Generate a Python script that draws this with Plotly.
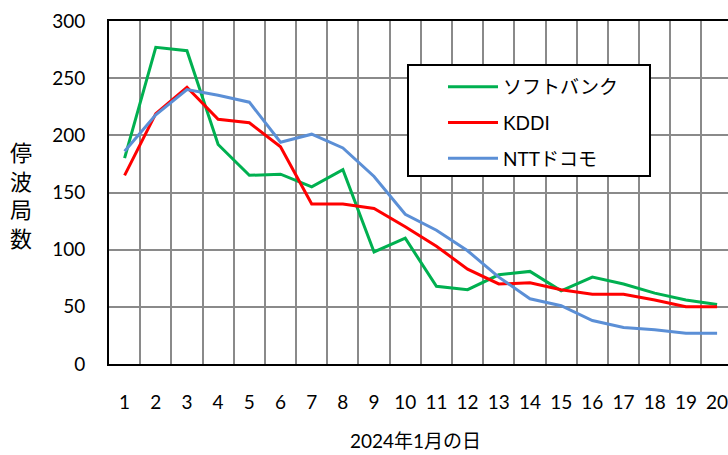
import plotly.graph_objects as go

days = list(range(1, 21))
day_labels = [str(d) for d in days]
softbank = [180, 277, 274, 192, 165, 166, 155, 170, 98, 110, 68, 65, 78, 81, 64, 76, 70, 62, 56, 52]
kddi = [165, 219, 242, 214, 211, 190, 140, 140, 136, 120, 103, 83, 70, 71, 65, 61, 61, 56, 50, 50]
ntt = [186, 218, 240, 235, 229, 194, 201, 189, 164, 131, 117, 99, 76, 57, 51, 38, 32, 30, 27, 27]
series_names = ["ソフトバンク", "KDDI", "NTTドコモ"]
series_colors = ["#00B050", "#FF0000", "#5B8FD6"]
y_ticks = [0, 50, 100, 150, 200, 250, 300]

FONT = "Lato, 'Noto Sans CJK JP', sans-serif"
W, H = 728, 455
# plot area in screen pixels: left 109, top 21, bottom 364, right clipped at 728
L, R, T, B = 109, 0, 21, 455 - 364
pw, ph = W - L - R, H - T - B

def px_x(x):
    return (x - L) / pw

def px_y(y):
    return (H - B - y) / ph

fig = go.Figure()
for i, (name, vals, col) in enumerate(zip(series_names, [softbank, kddi, ntt], series_colors)):
    fig.add_trace(go.Scatter(x=days, y=vals, mode="lines", name=name,
                             line=dict(color=col, width=3), legendgroup=f"g{i}"))

fig.update_layout(
    width=W, height=H,
    margin=dict(l=L, r=R, t=T, b=B, pad=0, autoexpand=False),
    paper_bgcolor="white", plot_bgcolor="white",
    font=dict(family=FONT, size=19, color="black"),
    showlegend=True,
    legend=dict(x=px_x(443), y=px_y(68), xanchor="left", yanchor="top",
                bgcolor="rgba(0,0,0,0)", borderwidth=0, tracegroupgap=8,
                itemwidth=50, font=dict(family=FONT, size=19, color="black")),
    xaxis=dict(range=[0.5, 20.35], tickvals=days, ticktext=day_labels,
               showgrid=False, zeroline=False, automargin=False, ticklabeloverflow="allow",
               showline=True, linecolor="black", linewidth=2, mirror=True,
               ticks="", ticklabelstandoff=20,
               minor=dict(tick0=0.5, dtick=1, showgrid=True, gridcolor="#8A8A8A", gridwidth=1.5, ticks="")),
    yaxis=dict(range=[0, 300], tickvals=y_ticks, showgrid=True, gridcolor="#8A8A8A", gridwidth=1.5,
               zeroline=False, showline=True, linecolor="black", linewidth=2, automargin=False,
               ticklabeloverflow="allow", ticks="", ticklabelstandoff=18),
    shapes=[dict(type="rect", xref="paper", yref="paper",
                 x0=px_x(408), x1=px_x(650), y0=px_y(176), y1=px_y(65),
                 line=dict(color="black", width=2), fillcolor="white", layer="above")],
    annotations=[
        dict(text="2024年1月の日", xref="paper", yref="paper", x=px_x(415), y=px_y(440),
             xanchor="center", yanchor="middle", showarrow=False, font=dict(family=FONT, size=19)),
        dict(text="停<br>波<br>局<br>数", xref="paper", yref="paper", x=px_x(21), y=px_y(195),
             xanchor="center", yanchor="middle", showarrow=False, font=dict(family=FONT, size=22)),
    ],
)

fig.write_html("out.html", config={"displayModeBar": False},
               post_script="document.body.style.margin='0';document.body.style.overflow='hidden';")
